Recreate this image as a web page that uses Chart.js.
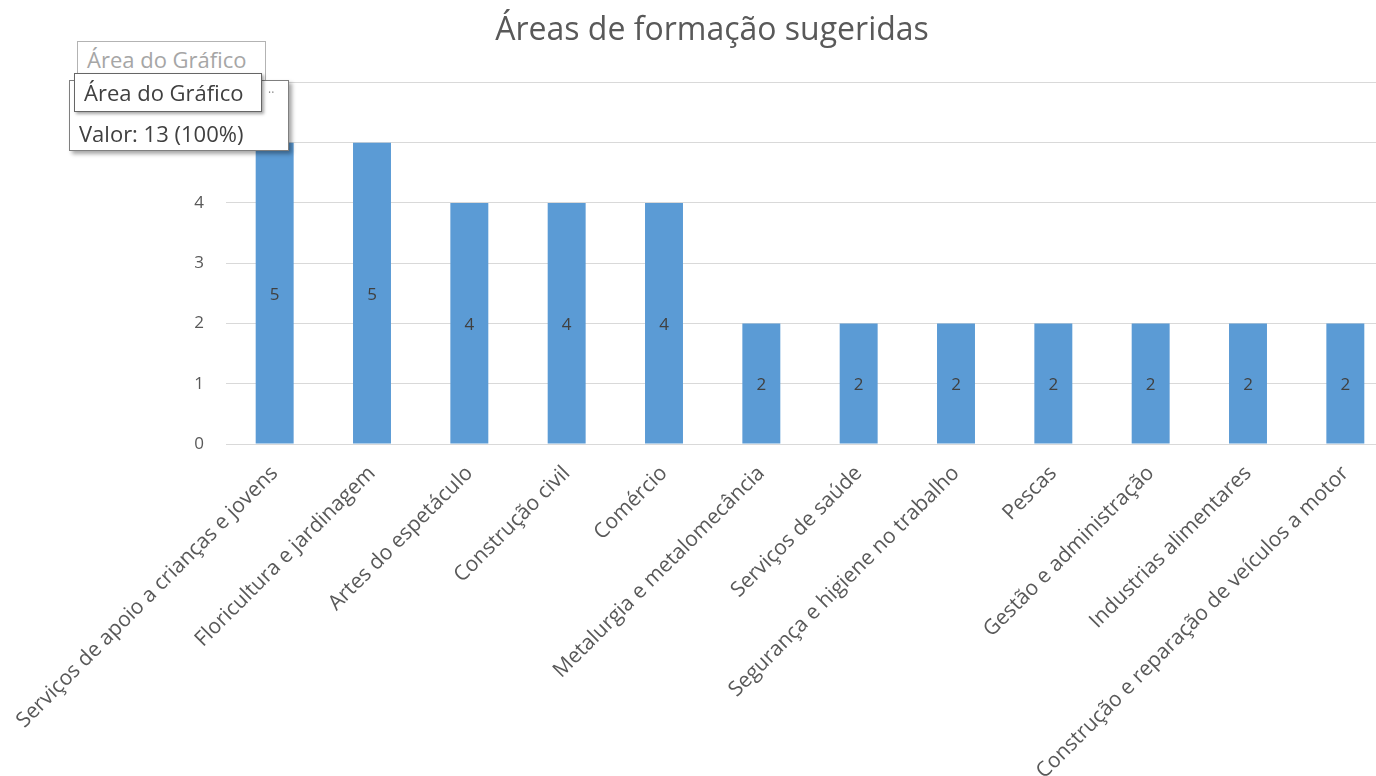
<!DOCTYPE html>
<html>
<head>
<meta charset="utf-8">
<script src="https://cdn.jsdelivr.net/npm/chart.js@4.4.0/dist/chart.umd.min.js"></script>
<style>
    html, body { margin: 0; padding: 0; background: #fff; overflow: hidden; }
    #wrap { position: relative; width: 1424px; height: 776px; }
    .tip { position: absolute; background: #fff; font-family: "Open Sans", sans-serif; box-sizing: border-box; white-space: nowrap; }
</style>
</head>
<body>
<div id="wrap">
    <canvas id="areasChart" width="1424" height="776"></canvas>

    <!-- Excel hover tooltip left in the screenshot -->
    <div class="tip" style="left:77px; top:41px; width:189px; height:40px; border:1px solid #b3b3b3; color:#a6a6a6; font-size:22px; line-height:35px; padding-left:9px;">Área do Gráfico</div>
    <div class="tip" style="left:69px; top:80px; width:220px; height:71px; border:1px solid #7f7f7f; box-shadow:3px 3px 4px rgba(0,0,0,0.35); color:#404040; font-size:22px; padding-left:9px; padding-top:37px; line-height:30px;">Valor: 13 (100%)</div>
    <div class="tip" style="left:74px; top:73px; width:188px; height:39px; border:1px solid #666; box-shadow:2px 2px 3px rgba(0,0,0,0.35); color:#404040; font-size:22px; line-height:36px; padding-left:9px;">Área do Gráfico</div>
    <div class="tip" style="left:268px; top:84px; color:#8c8c8c; font-size:12px; background:transparent;">··</div>
</div>

<script>
    // ============================================
    // DATA
    // ============================================
    const categories = [
        'Serviços de apoio a crianças e jovens',
        'Floricultura e jardinagem',
        'Artes do espetáculo',
        'Construção civil',
        'Comércio',
        'Metalurgia e metalomecância',
        'Serviços de saúde',
        'Segurança e higiene no trabalho',
        'Pescas',
        'Gestão e administração',
        'Industrias alimentares',
        'Construção e reparação de veículos a motor'
    ];
    const counts = [5, 5, 4, 4, 4, 2, 2, 2, 2, 2, 2, 2];
    const yTicks = [0, 1, 2, 3, 4, 5, 6];

    const textColor = '#595959';
    const fontFamily = '"Open Sans", sans-serif';

    // value labels centred inside each bar
    const barLabels = {
        id: 'barLabels',
        afterDatasetsDraw(chart) {
            const ctx = chart.ctx;
            ctx.save();
            ctx.font = '17px ' + fontFamily;
            ctx.fillStyle = '#404040';
            ctx.textAlign = 'center';
            ctx.textBaseline = 'middle';
            chart.getDatasetMeta(0).data.forEach(function(bar, i) {
                ctx.fillText(counts[i], bar.x, (bar.y + bar.base) / 2 + 2);
            });
            ctx.restore();
        }
    };

    new Chart(document.getElementById('areasChart'), {
        type: 'bar',
        data: {
            labels: categories,
            datasets: [{
                data: counts,
                backgroundColor: '#5B9BD5',
                borderWidth: 0,
                barPercentage: 0.39,
                categoryPercentage: 1
            }]
        },
        options: {
            responsive: false,
            animation: false,
            events: [],
            layout: { padding: { left: 30, right: 30, top: 0, bottom: 0 } },
            plugins: {
                legend: { display: false },
                tooltip: { enabled: false },
                title: {
                    display: true,
                    text: 'Áreas de formação sugeridas',
                    color: textColor,
                    font: { family: fontFamily, size: 32, weight: 'normal' },
                    padding: { top: 12, bottom: 32 }
                }
            },
            scales: {
                y: {
                    min: yTicks[0],
                    max: yTicks[yTicks.length - 1],
                    afterBuildTicks: function(scale) {
                        scale.ticks = yTicks.map(function(v) { return { value: v }; });
                    },
                    afterFit: function(scale) { scale.width = 196; },
                    border: { display: false },
                    grid: { color: '#d9d9d9', drawTicks: false },
                    ticks: {
                        color: textColor,
                        padding: 22,
                        font: { family: fontFamily, size: 17 }
                    }
                },
                x: {
                    afterFit: function(scale) { scale.height = 332; },
                    border: { color: '#d9d9d9' },
                    grid: { display: false },
                    ticks: {
                        color: textColor,
                        autoSkip: false,
                        minRotation: 45,
                        maxRotation: 45,
                        padding: 9,
                        font: { family: fontFamily, size: 21 }
                    }
                }
            }
        },
        plugins: [barLabels]
    });
</script>
</body>
</html>
